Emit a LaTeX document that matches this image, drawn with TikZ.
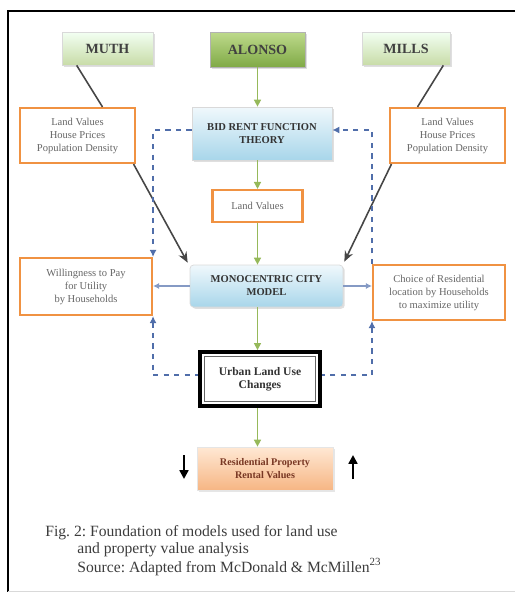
\documentclass[tikz,border=0pt]{standalone}
\usepackage{fontspec}
\setmainfont{Liberation Serif}
\usetikzlibrary{arrows.meta,shadows}

\definecolor{orangeline}{RGB}{240,146,66}
\definecolor{greenline}{RGB}{150,185,90}
\definecolor{dashblue}{RGB}{80,110,170}
\definecolor{darkline}{RGB}{70,70,70}
\definecolor{captiongray}{RGB}{60,60,60}

\begin{document}
\frenchspacing
\begin{tikzpicture}[x=0.02cm,y=-0.02cm,
    author/.style={draw=black!15, top color=green!5!white, bottom color={rgb,255:red,200;green,220;blue,168},
        font=\fontsize{8}{9}\selectfont\bfseries, text=black!75, inner sep=0pt,
        drop shadow={opacity=0.25,shadow xshift=1pt,shadow yshift=-1pt}},
    theory/.style={draw=black!15, top color={rgb,255:red,240;green,248;blue,252}, bottom color={rgb,255:red,168;green,214;blue,234},
        font=\fontsize{6}{7.4}\selectfont\bfseries, text=black!80, align=center, inner sep=0pt,
        drop shadow={opacity=0.25,shadow xshift=1pt,shadow yshift=-1pt}},
    factor/.style={draw=orangeline, line width=1.2pt, fill=white, align=center, inner sep=0pt,
        font=\fontsize{6}{7.4}\selectfont, text=black!60},
    flow/.style={greenline, line width=0.8pt, -{Triangle[width=4pt,length=4pt]}},
    feed/.style={dashblue, dashed, line width=0.8pt, -{Latex[width=4pt,length=4pt]}},
    link/.style={dashblue!70, line width=0.6pt, -{Latex[width=3.5pt,length=3.5pt]}},
    lead/.style={darkline, line width=0.9pt},
    trend/.style={black, line width=1.3pt, -{Triangle[width=5pt,length=5pt]}}]
    \useasboundingbox (0,0) rectangle (515,592);
    % --- FRAME ---
    \draw[line width=0.8pt] (515,11) -- (8,11) -- (8,592);
    \draw[black!15] (8,591) -- (515,591);

    % --- THEORISTS ---
    \node[author, minimum width=1.82cm, minimum height=0.66cm] (muth) at (107.5,48.5) {MUTH};
    \node[author, minimum width=1.9cm, minimum height=0.7cm, top color={rgb,255:red,190;green,218;blue,140},
        bottom color={rgb,255:red,128;green,170;blue,70}, draw=black!30] (alonso) at (257.5,49.5) {ALONSO};
    \node[author, minimum width=1.76cm, minimum height=0.66cm] (mills) at (406,48.5) {MILLS};

    % --- VARIABLES ---
    \node[factor, minimum width=2.3cm, minimum height=1.1cm] (valleft) at (77.5,135.5)
        {Land Values\\House Prices\\Population Density};
    \node[factor, minimum width=2.3cm, minimum height=1.1cm] (valright) at (447.5,135.5)
        {Land Values\\House Prices\\Population Density};
    \node[theory, minimum width=2.8cm, minimum height=1.06cm] (bidrent) at (262,133.5)
        {BID RENT FUNCTION\\THEORY};
    \node[factor, minimum width=1.8cm, minimum height=0.64cm] (landval) at (257.5,206) {Land Values};
    \node[theory, rounded corners=2pt, minimum width=3.06cm, minimum height=0.84cm] (mono) at (266.5,286)
        {MONOCENTRIC CITY\\MODEL};
    \node[factor, minimum width=2.64cm, minimum height=1.14cm] (willing) at (86,286.5)
        {Willingness to Pay\\for Utility\\by Households};
    \node[factor, minimum width=2.64cm, minimum height=1.1cm] (choice) at (439,292.5)
        {Choice of Residential\\location by Households\\to maximize utility};
    \node[draw=black, line width=2.2pt, fill=white, minimum width=2.4cm, minimum height=1.08cm, align=center,
        font=\fontsize{6.6}{7.6}\selectfont\bfseries, text=black!80] (urban) at (260,379)
        {Urban Land Use\\Changes};
    \draw[black!60, line width=0.5pt] ([shift={(3.5pt,-3.5pt)}]urban.north west) rectangle ([shift={(-3.5pt,3.5pt)}]urban.south east);
    \node[draw=black!10, top color={rgb,255:red,255;green,232;blue,212}, bottom color={rgb,255:red,246;green,182;blue,132},
        minimum width=2.72cm, minimum height=0.86cm, align=center, inner sep=0pt,
        font=\fontsize{5.8}{7.4}\selectfont\bfseries, text={rgb,255:red,120;green,55;blue,35},
        drop shadow={opacity=0.2,shadow xshift=1pt,shadow yshift=-1pt}] (rental) at (265,468.5)
        {Residential Property\\Rental Values};

    % --- CONNECTORS ---
    \draw[flow] (alonso.south) -- (alonso.south |- bidrent.north);
    \draw[flow] (bidrent.south -| landval.north) -- (landval.north);
    \draw[flow] (landval.south) -- (landval.south |- mono.north);
    \draw[flow] (mono.south -| landval.south) -- (landval.south |- urban.north);
    \draw[flow] (urban.south -| landval.south) -- (landval.south |- rental.north);

    \draw[lead] ([xshift=0.3cm]muth.south west) -- ([xshift=0.5cm]valleft.north);
    \draw[lead] ([xshift=-0.14cm]mills.south east) -- ([xshift=-0.6cm]valright.north);
    \draw[lead, -{Stealth[length=6pt,width=5pt]}] ([xshift=-0.05cm]valleft.south east) -- ([shift={(-0.04cm,0.04cm)}]mono.north west);
    \draw[lead, -{Stealth[length=6pt,width=5pt]}] ([xshift=0.05cm]valright.south west) -- ([shift={(0.02cm,0.06cm)}]mono.north east);

    \draw[link] (mono.west) -- (mono.west -| willing.east);
    \draw[link] (mono.east) -- (mono.east -| choice.west);

    \draw[feed] ([yshift=0.07cm]bidrent.west) -| (willing.north east);
    \draw[feed] (choice.north west) |- ([yshift=0.07cm]bidrent.east);
    \draw[feed, {Latex[width=4pt,length=4pt]}-] (willing.south east) |- ([yshift=0.08cm]urban.west);
    \draw[feed, {Latex[width=4pt,length=4pt]}-] (choice.south west) |- ([yshift=0.08cm]urban.east);

    % --- RENTAL TREND ---
    \coordinate (downtop) at (184,455);
    \coordinate (downend) at (184,479);
    \coordinate (upbottom) at (353,479);
    \coordinate (upend) at (353,455);
    \draw[trend] (downtop) -- (downend);
    \draw[trend] (upbottom) -- (upend);

    % --- CAPTION ---
    \node[anchor=north west, align=left, inner sep=0pt, text=captiongray,
        font=\fontsize{8.9}{9.5}\selectfont] (caption) at (45,525)
        {Fig. 2: Foundation of models used for land use\\
         \hspace*{0.64cm}and property value analysis\\
         \hspace*{0.64cm}Source: Adapted from McDonald \& McMillen\textsuperscript{23}};
\end{tikzpicture}
\end{document}
